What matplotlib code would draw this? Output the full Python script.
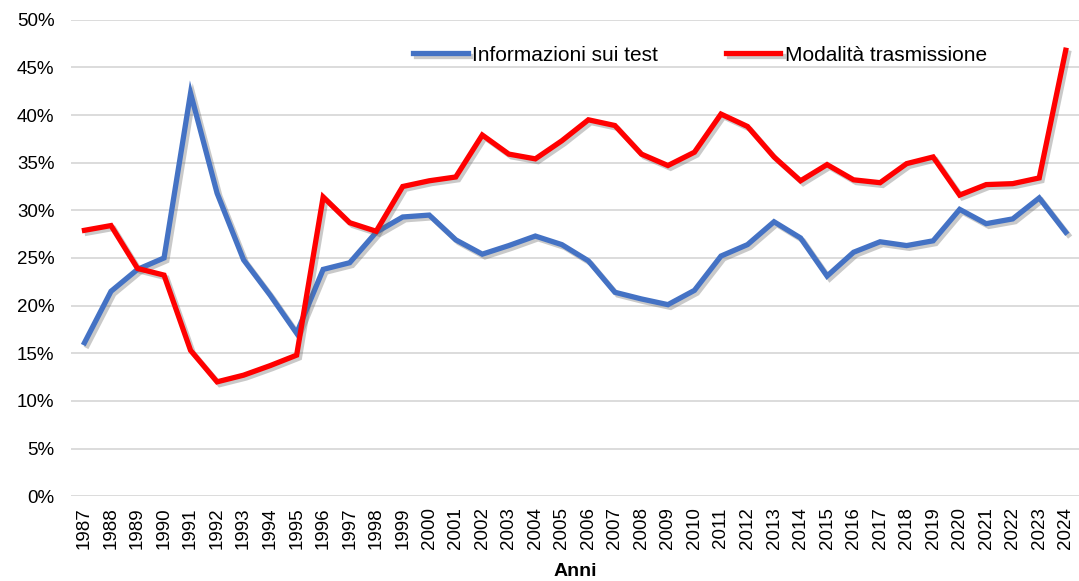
import matplotlib.pyplot as plt
import matplotlib.patheffects as pe
from matplotlib.ticker import PercentFormatter, MultipleLocator

plt.rcParams["font.family"] = ["Liberation Sans", "DejaVu Sans"]

years = list(range(1987, 2025))
info_test = [16.1, 21.5, 23.8, 25.0, 42.3, 31.8, 24.8, 21.1, 17.1, 23.8,
             24.5, 27.7, 29.3, 29.5, 26.9, 25.4, 26.3, 27.3, 26.4, 24.7,
             21.4, 20.7, 20.1, 21.6, 25.2, 26.4, 28.8, 27.1, 23.1, 25.6,
             26.7, 26.3, 26.8, 30.1, 28.6, 29.1, 31.3, 27.7]
trasmissione = [27.9, 28.4, 23.9, 23.2, 15.3, 12.0, 12.7, 13.7, 14.8, 31.4,
                28.7, 27.8, 32.5, 33.1, 33.5, 37.9, 35.9, 35.4, 37.3, 39.5,
                38.9, 35.9, 34.7, 36.1, 40.1, 38.8, 35.6, 33.1, 34.8, 33.2,
                32.9, 34.9, 35.6, 31.6, 32.7, 32.8, 33.4, 46.8]

fig = plt.figure(figsize=(10.79, 5.81), dpi=100)
ax = fig.add_axes([0.066, 0.146, 0.934, 0.82])

# ombra leggera sotto le linee, come nel grafico originale
shadow = [pe.SimpleLineShadow(offset=(2, -2), shadow_color="0.4", alpha=0.35),
          pe.Normal()]
x = range(len(years))
ax.plot(x, info_test, color="#4472C4", lw=3.8, solid_joinstyle="miter",
        label="Informazioni sui test", path_effects=shadow)
ax.plot(x, trasmissione, color="#FF0000", lw=3.8, solid_joinstyle="miter",
        label="Modalità trasmissione", path_effects=shadow)

ax.set_xlim(-0.5, len(years) - 0.5)
ax.set_ylim(0, 50)
ax.yaxis.set_major_locator(MultipleLocator(5))
ax.yaxis.set_major_formatter(PercentFormatter(decimals=0))
ax.set_xticks(list(x))
ax.set_xticklabels([str(y) for y in years], rotation=90, fontsize=13.5)
ax.tick_params(axis="y", labelsize=13.5, length=0, pad=12)
ax.tick_params(axis="x", length=0, pad=8)
ax.grid(axis="y", color="#d9d9d9", lw=1.3)
ax.set_axisbelow(True)
for s in ax.spines.values():
    s.set_visible(False)

ax.set_xlabel("Anni", fontsize=14, fontweight="bold", labelpad=10)

ax.legend(loc="upper center", bbox_to_anchor=(0.624, 0.985), ncol=2, frameon=False,
          fontsize=15, handlelength=2.6, columnspacing=3.3, handletextpad=0.2)

fig.savefig("out.png", dpi=100)
